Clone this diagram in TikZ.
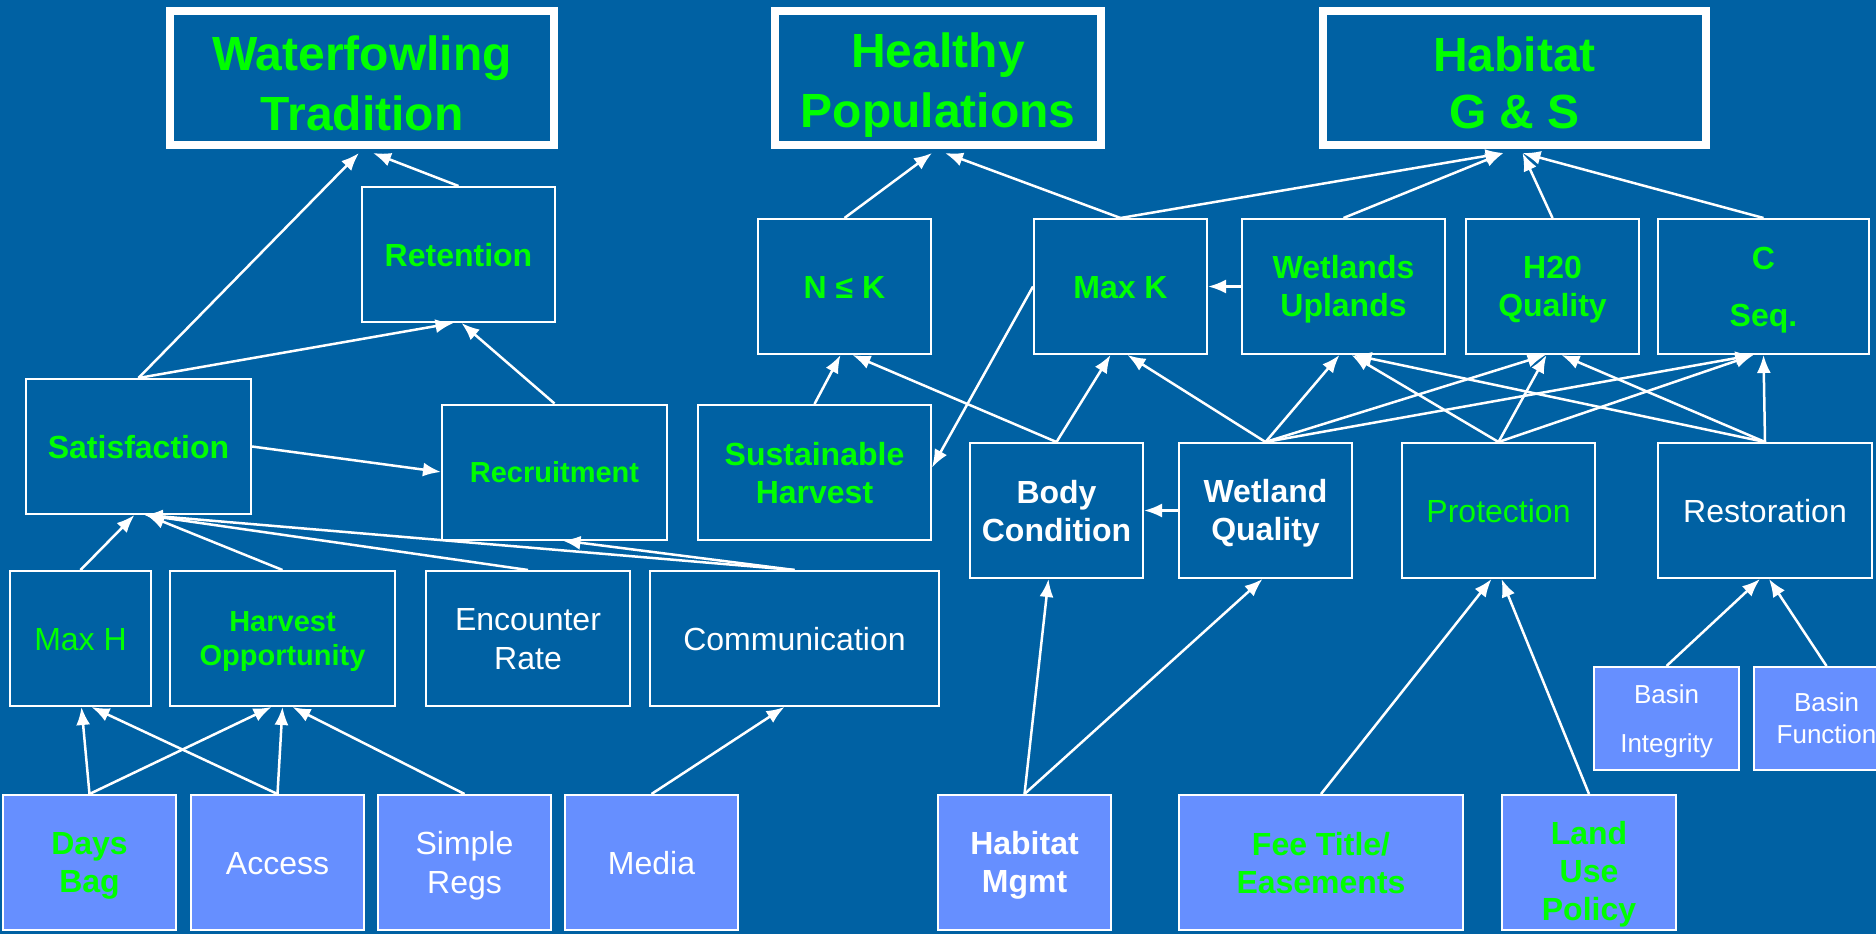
\documentclass[tikz,border=0pt]{standalone}
\usepackage{fontspec}
\setmainfont{Liberation Sans}
\usetikzlibrary{arrows.meta}
\definecolor{bgblue}{HTML}{0061A3}
\definecolor{lightbox}{HTML}{668FFF}
\definecolor{brightgreen}{HTML}{00FF00}
% line struts (ascent, descent) placed in the first and last line of a text
\newcommand\ls{\rule[-0.2em]{0pt}{1.12em}}
\newcommand\ts{\rule[-0.094em]{0pt}{1.114em}}

\begin{document}
\begin{tikzpicture}[x=1pt,y=-1pt,
  txt/.style={inner sep=0pt, align=center},
  box/.style={txt, draw=white, line width=2pt, minimum height=135pt},
  dark/.style={box},
  pale/.style={box, fill=lightbox},
  goal/.style={txt, draw=white, line width=8pt, minimum height=134pt,
    text=brightgreen, font=\fontsize{48}{57}\selectfont\bfseries},
  gb/.style={text=brightgreen, font=\fontsize{32}{38}\selectfont\bfseries},
  gbs/.style={text=brightgreen, font=\fontsize{29}{34}\selectfont\bfseries},
  gr/.style={text=brightgreen, font=\fontsize{32}{38}\selectfont},
  wb/.style={text=white, font=\fontsize{32}{38}\selectfont\bfseries},
  wr/.style={text=white, font=\fontsize{32}{39}\selectfont},
  ws/.style={text=white, font=\fontsize{26}{32}\selectfont},
  link/.style={draw=white, line width=2.5pt, -{Latex[length=18pt,width=14pt]}},
]
\useasboundingbox (0,0) rectangle (1876,934);
\fill[bgblue] (0,0) rectangle (1876,934);

% goals
\node[goal, minimum width=384pt] (wt)  at (362,78)    {\ts Waterfowling\\Tradition\ts};
\node[goal, minimum width=326pt] (hp)  at (938,78)    {\ts Healthy\\Populations\ts};
\node[goal, minimum width=383pt] (hgs) at (1514.5,78) {\ts Habitat\\G \& S\ts};

% second level
\node[dark, gb, minimum width=193pt] (ret)  at (458.5,254.5)  {\ls Retention};
\node[dark, gb, minimum width=173pt] (nk)   at (844.5,286.5)  {\ls N ≤ K};
\node[dark, gb, minimum width=173pt] (maxk) at (1120.5,286.5) {\ls Max K};
\node[dark, gb, minimum width=203pt] (wu)   at (1343.5,286.5) {\ls Wetlands\\Uplands\ls};
\node[dark, gb, minimum width=173pt] (h2o)  at (1552.5,286.5) {\ls H20\\Quality\ls};
\node[dark, gb, minimum width=211pt] (cseq) at (1763.5,286.5) {\ls C\\[19pt]Seq.\ls};

% third level
\node[dark, gb,  minimum width=225pt] (sat)  at (138.5,446.5)  {\ls Satisfaction};
\node[dark, gbs, minimum width=225pt] (rec)  at (554.5,472)    {\ls Recruitment};
\node[dark, gb,  minimum width=233pt] (sh)   at (814.5,472.5)  {\ls Sustainable\\Harvest\ls};
\node[dark, wb,  minimum width=173pt] (bc)   at (1056.5,510.5) {\ls Body\\Condition\ls};
\node[dark, wb,  minimum width=173pt] (wq)   at (1265.5,510.5) {\ls Wetland\\Quality\ls};
\node[dark, gr,  minimum width=193pt] (prot) at (1498.5,510.5) {\ls Protection};
\node[dark, wr,  minimum width=214pt] (rest) at (1765,510.5)   {\ls Restoration};

% fourth level
\node[dark, gr,  minimum width=141pt] (maxh) at (80.5,638.5)  {\ls Max H};
\node[dark, gbs, minimum width=225pt] (ho)   at (282.5,638.5) {\ls Harvest\\Opportunity\ls};
\node[dark, wr,  minimum width=204pt] (er)   at (528,638.5)   {\ls Encounter\\Rate\ls};
\node[dark, wr,  minimum width=289pt] (comm) at (794.5,638.5) {\ls Communication};
\node[pale, ws, minimum width=145pt, minimum height=103pt] (bi) at (1666.5,718.5) {\ls Basin\\[17pt]Integrity\ls};
\node[pale, ws, minimum width=145pt, minimum height=103pt] (bf) at (1826.5,718.5) {\ls Basin\\Function\ls};

% actions
\node[pale, gb, minimum width=173pt] (days)   at (89.5,862.5)  {\ls Days\\Bag\ls};
\node[pale, wr, minimum width=173pt] (access) at (277.5,862.5) {\ls Access};
\node[pale, wr, minimum width=173pt] (regs)   at (464.5,862.5) {\ls Simple\\Regs\ls};
\node[pale, wr, minimum width=173pt] (media)  at (651.5,862.5) {\ls Media};
\node[pale, wb, minimum width=173pt] (hm)     at (1024.5,862.5) {\ls Habitat\\Mgmt\ls};
\node[pale, gb, minimum width=284pt] (ft)     at (1321,862.5)  {\ls Fee Title/\\Easements\ls};
\node[pale, minimum width=174pt] (lup) at (1589,862.5) {};
\node[txt, gb] (lupt) at ([yshift=-9pt]lup.center) {\ls Land\\Use\\Policy\ls};

% links to goals
\draw[link] (sat.north)  -- ([xshift=-3pt,yshift=-4pt]wt.south);
\draw[link] (ret.north)  -- ([xshift=11pt,yshift=-4pt]wt.south);
\draw[link] (nk.north)   -- ([xshift=-6pt,yshift=-4pt]hp.south);
\draw[link] (maxk.north) -- ([xshift=7pt,yshift=-4pt]hp.south);
\draw[link] (maxk.north) -- ([xshift=-11pt,yshift=-4pt]hgs.south);
\draw[link] (wu.north)   -- ([xshift=-11pt,yshift=-4pt]hgs.south);
\draw[link] (h2o.north)  -- ([xshift=8pt,yshift=-4pt]hgs.south);
\draw[link] (cseq.north) -- ([xshift=8pt,yshift=-4pt]hgs.south);

% waterfowling side
\draw[link] (sat.north)  -- ([xshift=-5pt]ret.south);
\draw[link] (rec.north)  -- ([xshift=3pt]ret.south);
\draw[link] (sat.east)   -- (rec.west);
\draw[link] (maxh.north) -- ([xshift=-4pt]sat.south);
\draw[link] (ho.north)   -- ([xshift=8pt]sat.south);
\draw[link] (er.north)   -- ([xshift=6pt]sat.south);
\draw[link] (comm.north) -- ([xshift=6pt]sat.south);
\draw[link] (comm.north) -- ([xshift=8pt]rec.south);
\draw[link] (days.north)   -- ([xshift=1pt]maxh.south);
\draw[link] (access.north) -- ([xshift=11pt]maxh.south);
\draw[link] (days.north)   -- ([xshift=-11pt]ho.south);
\draw[link] (access.north) -- (ho.south);
\draw[link] (regs.north)   -- ([xshift=10pt]ho.south);
\draw[link] (media.north)  -- ([xshift=-10pt]comm.south);

% populations side
\draw[link] (wu.west)   -- (maxk.east);
\draw[link] (maxk.west) -- ([yshift=5pt]sh.east);
\draw[link] (sh.north)  -- ([xshift=-4pt]nk.south);
\draw[link] (bc.north)  -- ([xshift=8pt]nk.south);
\draw[link] (bc.north)  -- ([xshift=-10pt]maxk.south);
\draw[link] (wq.north)  -- ([xshift=7pt]maxk.south);
\draw[link] (wq.west)   -- (bc.east);
\draw[link] (hm.north)  -- ([xshift=-8pt]bc.south);
\draw[link] (hm.north)  -- ([xshift=-3pt]wq.south);

% habitat side
\draw[link] (wq.north)   -- ([xshift=-4pt]wu.south);
\draw[link] (prot.north) -- ([xshift=8pt]wu.south);
\draw[link] (rest.north) -- ([xshift=10pt]wu.south);
\draw[link] (wq.north)   -- ([xshift=-7pt]h2o.south);
\draw[link] (prot.north) -- ([xshift=-6pt]h2o.south);
\draw[link] (rest.north) -- ([xshift=9pt]h2o.south);
\draw[link] (wq.north)   -- ([xshift=-10pt]cseq.south);
\draw[link] (prot.north) -- ([xshift=-10pt]cseq.south);
\draw[link] (rest.north) -- (cseq.south);
\draw[link] (ft.north)   -- ([xshift=-7pt]prot.south);
\draw[link] (lup.north)  -- ([xshift=3pt]prot.south);
\draw[link] (bi.north)   -- ([xshift=-5pt]rest.south);
\draw[link] (bf.north)   -- ([xshift=4pt]rest.south);
\end{tikzpicture}
\end{document}
